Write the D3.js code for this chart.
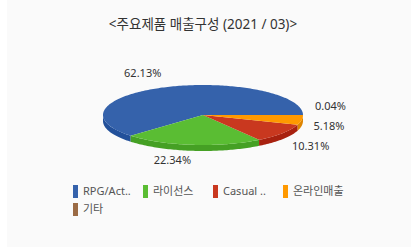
<!DOCTYPE html>
<html>
<head>
<meta charset="utf-8">
<script src="https://cdn.jsdelivr.net/npm/d3@7"></script>
<style>
  body { margin: 0; background: #fff; }
  svg { display: block; }
  text { font-family: "Noto Sans", "Noto Sans CJK KR", sans-serif; }
</style>
</head>
<body>
<svg id="chart" width="411" height="247"></svg>
<script>
// data
const categories = ["RPG/Act..", "라이선스", "Casual ..", "온라인매출", "기타"];
const shares = [62.13, 22.34, 10.31, 5.18, 0.04];
const topColors = ["#3562ab", "#5abd33", "#c9381f", "#ff9900", "#9b6b45"];
const sideColors = ["#22509a", "#45a024", "#a8210f", "#dd8400", "#7c5234"];
const title = "<주요제품 매출구성 (2021 / 03)>";

const width = 411, height = 247;
const cx = 203, cy = 115, rx = 100, ry = 30, depth = 6;

const svg = d3.select("#chart");

svg.append("rect")
    .attr("x", 7).attr("y", 0)
    .attr("width", width - 7).attr("height", height)
    .attr("fill", "#fafafa");

svg.append("text")
    .attr("x", 203).attr("y", 29)
    .attr("text-anchor", "middle")
    .attr("font-size", 13.5)
    .attr("fill", "#333")
    .text(title);

const data = categories.map((c, i) => ({ name: c, value: shares[i], top: topColors[i], side: sideColors[i] }));

// counter-clockwise from 3 o'clock
const pie = d3.pie()
    .sort(null)
    .value(d => d.value)
    .startAngle(Math.PI / 2)
    .endAngle(Math.PI / 2 - 2 * Math.PI);

const arcs = pie(data);

const px = a => cx + rx * Math.sin(a);
const py = a => cy - ry * Math.cos(a);
const line = d3.line();

function sample(a0, a1) {
    const n = Math.max(2, Math.ceil(Math.abs(a1 - a0) / 0.02));
    return d3.range(n + 1).map(i => a0 + (a1 - a0) * i / n);
}

// sides (only the front half is visible)
const g = svg.append("g");
arcs.forEach(d => {
    let a0 = Math.min(d.startAngle, d.endAngle), a1 = Math.max(d.startAngle, d.endAngle);
    // normalise to [-PI/2, 3PI/2)
    const norm = a => { while (a < -Math.PI / 2) a += 2 * Math.PI; return a; };
    const s = norm(a0), e = s + (a1 - a0);
    const lo = Math.max(s, Math.PI / 2), hi = Math.min(e, 3 * Math.PI / 2);
    if (hi <= lo) return;
    const pts = sample(lo, hi);
    const topEdge = pts.map(a => [px(a), py(a)]);
    const botEdge = pts.slice().reverse().map(a => [px(a), py(a) + depth]);
    g.append("path")
        .attr("d", line(topEdge.concat(botEdge)) + "Z")
        .attr("fill", d.data.side);
});

// top faces
arcs.forEach(d => {
    const pts = [[cx, cy]].concat(sample(d.startAngle, d.endAngle).map(a => [px(a), py(a)]));
    g.append("path")
        .attr("d", line(pts) + "Z")
        .attr("fill", d.data.top);
});

// labels
const labels = arcs.map(d => {
    const m = (d.startAngle + d.endAngle) / 2;
    const s = Math.sin(m), c = Math.cos(m);
    return {
        text: d.data.value.toFixed(2) + "%",
        x: cx + (rx + 12) * s,
        y: cy - (ry + 15) * c,
        anchor: s >= 0 ? "start" : "end",
        right: s >= 0
    };
});

const right = labels.filter(l => l.right).sort((a, b) => a.y - b.y);
for (let k = 0; k < 30; k++) {
    for (let i = 1; i < right.length; i++) {
        const gap = right[i].y - right[i - 1].y;
        if (gap < 20) {
            const push = (20 - gap) / 2;
            right[i].y += push;
            right[i - 1].y -= push;
        }
    }
}

svg.append("g").selectAll("text")
    .data(labels)
    .join("text")
    .attr("x", d => d.x)
    .attr("y", d => d.y)
    .attr("dy", "0.35em")
    .attr("text-anchor", d => d.anchor)
    .attr("font-size", 11)
    .attr("fill", "#333")
    .text(d => d.text);

// legend
const legend = svg.append("g");
const item = legend.selectAll("g")
    .data(data)
    .join("g")
    .attr("transform", (d, i) => `translate(${73 + (i % 4) * 70},${191 + Math.floor(i / 4) * 18})`);

item.append("rect")
    .attr("x", 0).attr("y", -6)
    .attr("width", 5).attr("height", 13)
    .attr("fill", d => d.top);

item.append("text")
    .attr("x", 10).attr("y", 0)
    .attr("dy", "0.35em")
    .attr("font-size", 11)
    .attr("fill", "#555")
    .text(d => d.name);
</script>
</body>
</html>
